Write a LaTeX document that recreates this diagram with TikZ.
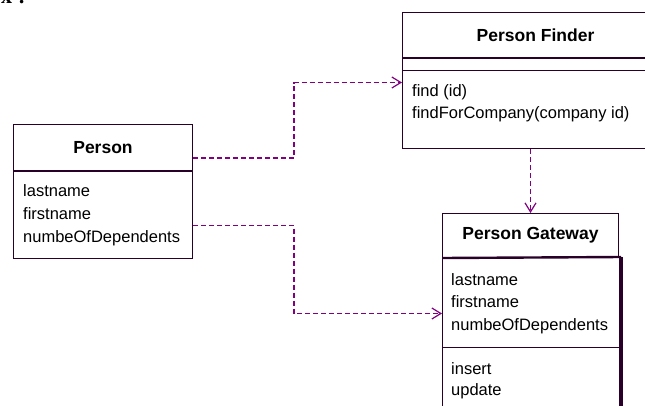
\documentclass[tikz,border=0pt]{standalone}
\usepackage{fontspec}
\setmainfont{Liberation Sans}
\newfontfamily\headserif{Liberation Serif}
\usetikzlibrary{arrows.meta,positioning}

\definecolor{umlline}{RGB}{40,0,40}
\definecolor{umldash}{RGB}{128,0,128}

\tikzset{
  classhead/.style={draw=umlline,line width=1pt,inner sep=0pt,anchor=north west,
    font=\bfseries\fontsize{17.5}{20}\selectfont},
  compart/.style={draw=umlline,line width=1pt,inner sep=0pt,anchor=north west},
  members/.style={anchor=north west,inner sep=0pt,align=left,
    font=\fontsize{16.5}{23}\selectfont},
  dep/.style={->,>={Straight Barb[length=9pt,width=11pt]},draw=umldash,
    line width=1.2pt,dash pattern=on 5pt off 3pt}
}

\begin{document}
\begin{tikzpicture}[x=1pt,y=-1pt]
\useasboundingbox (0,0) rectangle (645,405);
\clip (0,0) rectangle (645,405);

% cut heading at the top
\node [anchor=base west,inner sep=0pt,font=\headserif\bfseries\fontsize{22}{22}\selectfont]
	(heading) at (1,3) {x\hspace{6pt}:};

% Person
\node [classhead,minimum width=179pt,minimum height=46pt] (person) at (13,124) {Person};
\node [compart,minimum width=179pt,minimum height=88pt] (person-attr) at (13,170) {};
\node [members] at (23,184) {lastname\\firstname\\numbeOfDependents};

% Person Finder
\node [classhead,minimum width=266pt,minimum height=45pt] (finder) at (402,12) {Person Finder};
\node [compart,minimum width=266pt,minimum height=13pt] (finder-attr) at (402,57) {};
\node [compart,minimum width=266pt,minimum height=78pt] (finder-ops) at (402,70) {};
\node [members,font=\fontsize{16.5}{22}\selectfont] at (412,84)
	{find (id)\\findForCompany(company id)};

% Person Gateway
\node [classhead,minimum width=176pt,minimum height=44pt] (gateway) at (442,213) {Person Gateway};
\node [compart,minimum width=178pt,minimum height=90pt] (gateway-attr) at (442,257) {};
\node [compart,minimum width=178pt,minimum height=80pt] (gateway-ops) at (442,347) {};
\node [members,font=\fontsize{16.5}{22.5}\selectfont] at (451,273)
	{lastname\\firstname\\numbeOfDependents};
\node [members,font=\fontsize{16.5}{21}\selectfont] at (451,362) {insert\\update};

% heavier lines under the headers and on the shadow side
\draw [umlline,line width=2.4pt] (person.south west) -- (person.south east);
\draw [umlline,line width=2.4pt] (finder.south west) -- (finder.south east);
\draw [umlline,line width=2.4pt] (gateway.south west) -- (gateway-attr.north east);
\draw [umlline,line width=3.5pt] (gateway-attr.north east) -- (gateway-ops.south east);

% dependencies
\draw [dep] ([yshift=13pt]person.south east) -- ++(101,0) |- ([yshift=27pt]finder-ops.west);
\draw [dep] ([yshift=-11pt]person-attr.east) -- ++(101,0) |- ([yshift=-11pt]gateway-attr.west);
\draw [dep] ([xshift=-5pt]finder-ops.south) -- (gateway.north);

\end{tikzpicture}
\end{document}
